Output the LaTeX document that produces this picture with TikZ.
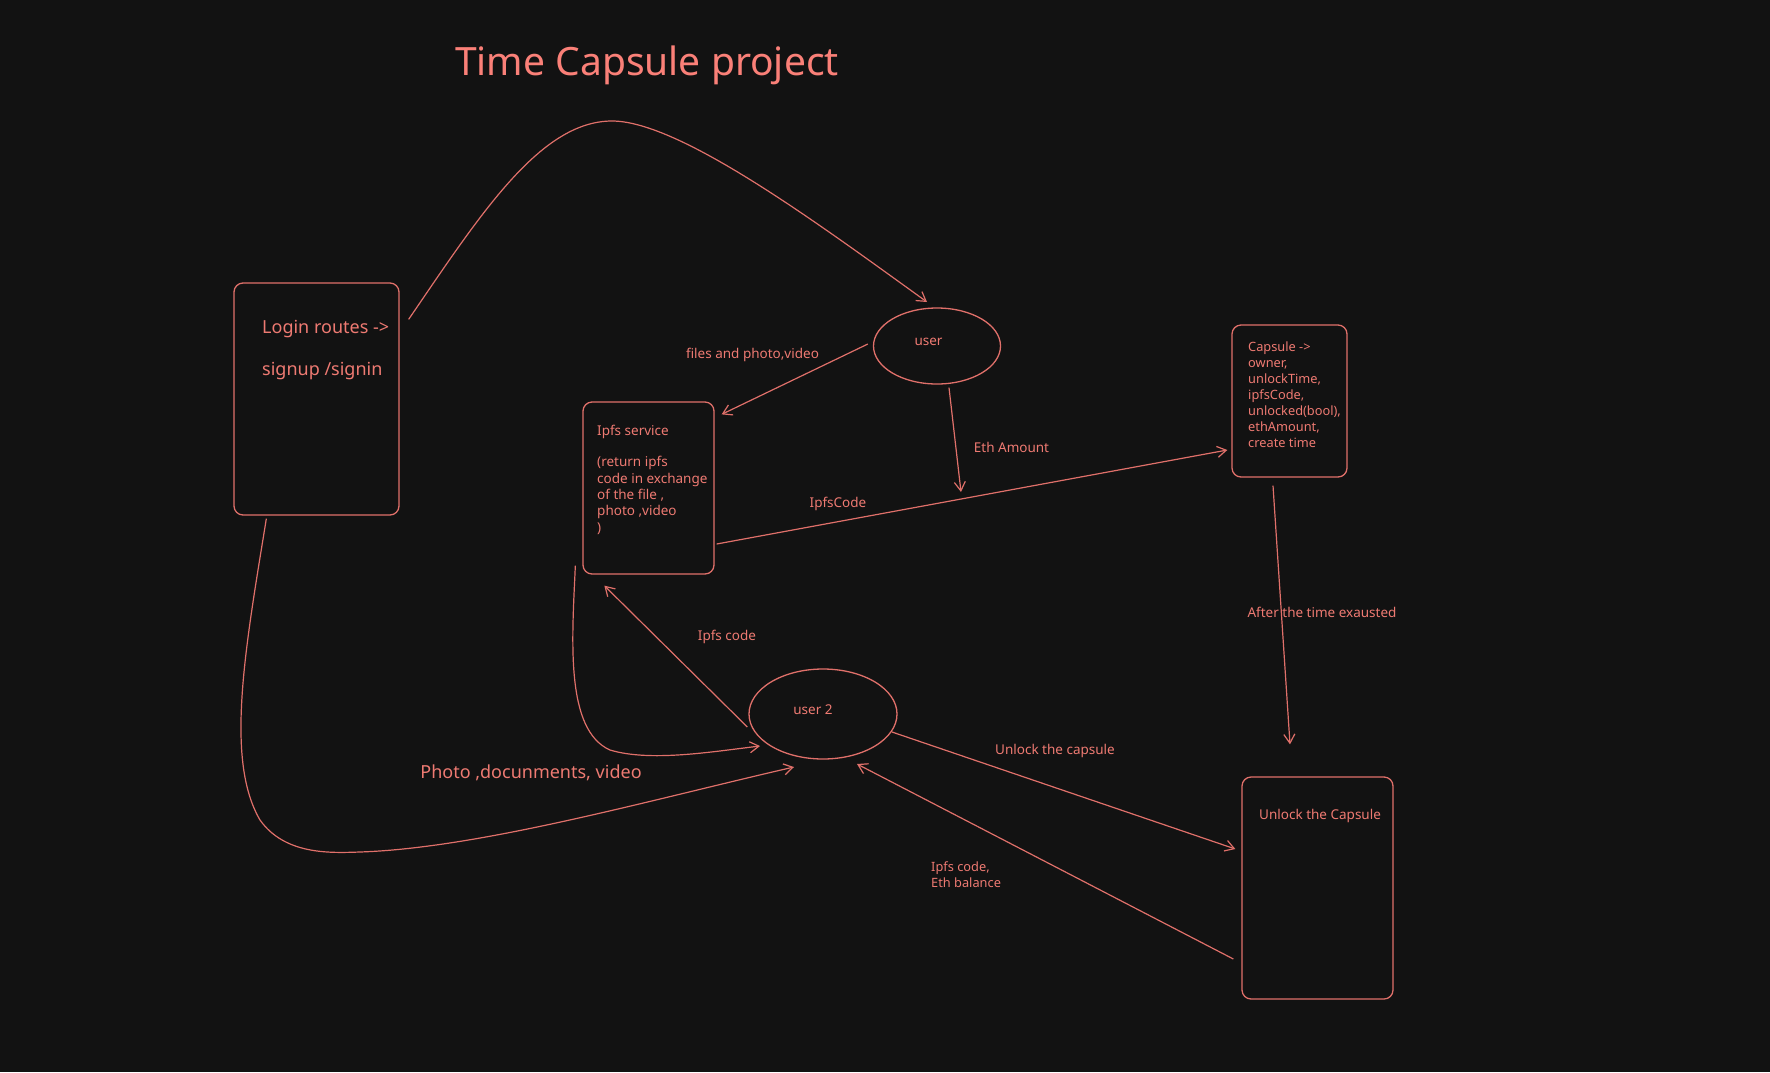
\documentclass[tikz,border=0pt]{standalone}
\usepackage{fontspec}
\setmainfont{Noto Sans}
\usetikzlibrary{arrows.meta,shapes.geometric,calc}
\definecolor{bg}{RGB}{18,18,18}
\definecolor{ink}{RGB}{224,112,106}
\definecolor{txt}{RGB}{238,122,114}
\definecolor{ttl}{RGB}{250,128,120}
\begin{document}
\begin{tikzpicture}[x=1pt,y=-1pt,
  box/.style={draw=ink,line width=1.3pt,rounded corners=9pt,inner sep=0pt},
  oval/.style={ellipse,draw=ink,line width=1.3pt,inner sep=0pt},
  conn/.style={draw=ink,line width=1.2pt,-{Straight Barb[length=9pt,width=11pt]}},
  sm/.style={text=txt,font=\fontsize{13.5}{16.3}\selectfont,inner sep=0pt},
  smtight/.style={text=txt,font=\fontsize{12.8}{16}\selectfont,inner sep=0pt},
  md/.style={text=txt,font=\fontsize{18}{22}\selectfont,inner sep=0pt},
  big/.style={text=ttl,font=\fontsize{39}{44}\selectfont,inner sep=0pt}]
\fill[bg] (0,0) rectangle (1770,1072);
\useasboundingbox (0,0) rectangle (1770,1072);

% title
\node[big,anchor=base] (title) at (647,75) {Time Capsule project};

% boxes and ellipses
\node[box,minimum width=165pt,minimum height=232pt] (login) at (316.5,399) {};
\node[box,minimum width=131pt,minimum height=172pt] (ipfs) at (648.5,488) {};
\node[box,minimum width=115pt,minimum height=152pt] (capsule) at (1289.5,401) {};
\node[box,minimum width=151pt,minimum height=222pt] (unlock) at (1317.5,888) {};
\node[oval,minimum width=127pt,minimum height=76pt] (user) at (937,346) {};
\node[oval,minimum width=148pt,minimum height=90pt] (user2) at (823,714) {};

% texts inside (multi-line nodes: base = last line)
\node[md,anchor=base west] (logintxt1) at (262,333) {Login routes ->};
\node[md,anchor=base west] (logintxt2) at (262,375) {signup /signin};
\node[sm,anchor=base west] (ipfstxt1) at (597,435) {Ipfs service};
\node[sm,anchor=base west,align=left] (ipfstxt2) at (597,532) {(return ipfs\\code in exchange\\of the file ,\\photo ,video\\)};
\node[smtight,anchor=base west,align=left] (capsuletxt) at (1248,447) {Capsule ->\\owner,\\unlockTime,\\ipfsCode,\\unlocked(bool),\\ethAmount,\\create time};
\node[sm,anchor=base west] (unlocktxt) at (1259,819) {Unlock the Capsule};
\node[sm,anchor=base] (usertxt) at (928.5,345) {user};
\node[sm,anchor=base] (user2txt) at (813,714) {user 2};

% connector labels
\node[sm,anchor=base] (lfiles) at (752.5,358) {files and photo,video};
\node[sm,anchor=base] (leth) at (1011.5,452) {Eth Amount};
\node[sm,anchor=base] (lipfscode) at (838,507) {IpfsCode};
\node[sm,anchor=base] (lafter) at (1322,617) {After the time exausted};
\node[sm,anchor=base] (lipfs2) at (727,640) {Ipfs code};
\node[sm,anchor=base] (lunlock) at (1055,754) {Unlock the capsule};
\node[smtight,anchor=base west,align=left] (lbal) at (931,887) {Ipfs code,\\Eth balance};
\node[md,anchor=base] (lphoto) at (531,778) {Photo ,docunments, video};

\coordinate (ethend) at (961,492);

% connectors
\draw[conn] ($(login.north east)+(9,37)$) .. controls (480,215) and (540,121) .. (612,121)
  .. controls (680,121) and (820,225) .. ($(user.center)+(-10,-44)$);
\draw[conn] ($(user.west)+(-5,-2)$) -- ($(ipfs.north east)+(7,13)$);
\draw[conn] ($(user.south)+(12,3)$) -- (ethend);
\draw[conn] ($(ipfs.east)+(2,56)$) -- ($(capsule.west)+(-4,49)$);
\draw[conn] ($(capsule.south)+(-16.5,8)$) -- ($(unlock.north)+(-27.5,-32)$);
\draw[conn] ($(user2.west)+(-1,13)$) -- ($(ipfs.south west)+(22,11)$);
\draw[conn] ($(ipfs.south west)+(-7,-9)$) .. controls (572,640) and (565,730) .. (610,750)
  .. controls (650,762) and (710,752) .. ($(user2.center)+(-63,32)$);
\draw[conn] ($(login.south west)+(33,3)$) .. controls (245,650) and (225,760) .. (260,820)
  .. controls (285,855) and (330,853) .. (360,852)
  .. controls (480,848) and (650,800) .. ($(user2.center)+(-29,53)$);
\draw[conn] ($(user2.center)+(69,18)$) -- ($(unlock.west)+(-6,-39)$);
\draw[conn] ($(unlock.west)+(-8,71)$) -- ($(user2.center)+(34,50)$);
\end{tikzpicture}
\end{document}
